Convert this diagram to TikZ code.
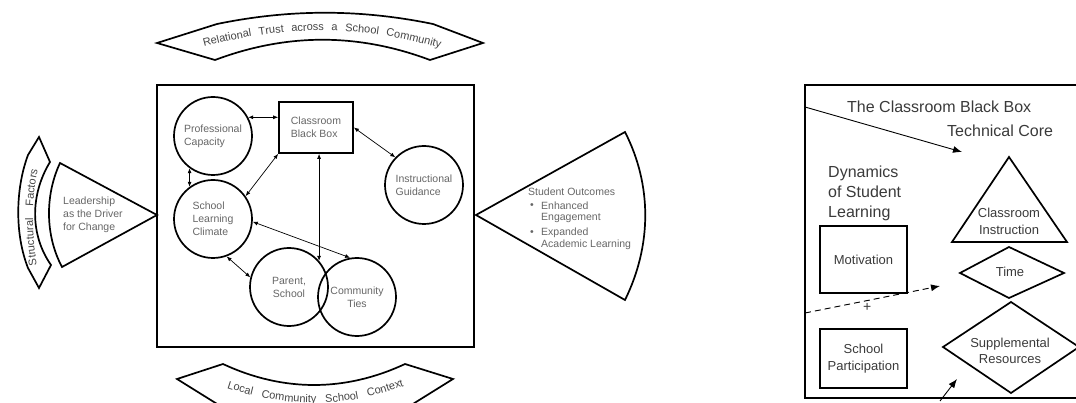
\documentclass[tikz,border=0pt]{standalone}
\usepackage{fontspec}
\setmainfont{Liberation Sans}
\usetikzlibrary{arrows.meta,decorations.text,calc}
\definecolor{txtgray}{HTML}{666666}
\definecolor{txtdark}{HTML}{3A3A3A}
\definecolor{bantxt}{HTML}{444444}
\begin{document}
\begin{tikzpicture}[x=1pt,y=-1pt,
  circ/.style={circle,draw,line width=1.7pt,minimum size=78pt,inner sep=0pt,align=left,text=txtgray,font=\fontsize{10.5}{13}\selectfont},
  lbl/.style={text=txtgray,font=\fontsize{10.5}{13}\selectfont,inner sep=0pt,align=left},
  dbl/.style={{Latex[length=5pt,width=4pt]}-{Latex[length=5pt,width=4pt]},line width=0.7pt},
  shp/.style={draw,line width=1.7pt,line join=miter},
  rtxt/.style={text=txtdark,font=\fontsize{16}{20}\selectfont,inner sep=0pt,align=left},
  stxt/.style={text=txtdark,font=\fontsize{13}{16.5}\selectfont,inner sep=0pt,align=center},
  ptr/.style={line width=0.9pt,-{Latex[length=9pt,width=7pt]}},
]
\useasboundingbox (0,0) rectangle (1076,403);
\clip (0,0) rectangle (1076,403);

% ---------- banners ----------
\draw[shp] (157,43) -- (217,24) .. controls (290,9) and (360,9) .. (433,24) -- (483,43)
  -- (430,60) .. controls (358,33) and (287,33) .. (215,60) -- cycle;
\path[decorate,decoration={text along path,
  text={|\fontsize{11}{12}\selectfont\color{bantxt}|Relational Trust across a School Community},
  text align={fit to path stretching spaces}}]
  (204,47) .. controls (285,25) and (360,25) .. (440,48);

\draw[shp] (177,379) -- (223,364) .. controls (283,392) and (345,392) .. (405,364) -- (453,379)
  -- (400,412) .. controls (345,440) and (285,440) .. (230,412) -- cycle;
\path[decorate,decoration={text along path,
  text={|\fontsize{11}{12}\selectfont\color{bantxt}|Local Community School Context},
  text align={fit to path stretching spaces}}]
  (227,388) .. controls (287,408) and (345,408) .. (404,386);

\draw[shp] (39,137) -- (50,162) .. controls (30,195) and (30,235) .. (51,265) -- (39,288)
  -- (28,268) .. controls (15,235) and (15,190) .. (28,155) -- cycle;
\path[decorate,decoration={text along path,
  text={|\fontsize{11}{12}\selectfont\color{bantxt}|Structural Factors},
  text align={fit to path stretching spaces}}]
  (37,265) .. controls (31.5,235) and (31.5,195) .. (38,170);

% ---------- leadership and outcomes ----------
\draw[shp] (60,163) -- (157,215) -- (62,267) .. controls (45,235) and (45,195) .. (60,163) -- cycle;
\node[lbl,anchor=west] (lead) at (63,214.5) {Leadership\\as the Driver\\for Change};

\draw[shp] (476,215) -- (625,132) .. controls (652,185) and (652,245) .. (625,300) -- cycle;
\node[lbl,anchor=west] (so) at (528,192) {Student Outcomes};
\node[lbl,anchor=west] (b1) at (530,206) {\textbullet};
\node[lbl,anchor=west] (so1) at (541,206) {Enhanced};
\node[lbl,anchor=west] (so2) at (541,218) {Engagement};
\node[lbl,anchor=west] (b2) at (530,233) {\textbullet};
\node[lbl,anchor=west] (so3) at (541,233) {Expanded};
\node[lbl,anchor=west] (so4) at (541,245) {Academic Learning};

% ---------- main box ----------
\draw[line width=1.7pt] (157,85) rectangle (474,347);

\node[circ] (pc) at (213,136) {Professional\\Capacity};
\node[circ] (slc) at (213,219) {School\\Learning\\Climate};
\node[circ] (ig) at (424,185) {Instructional\\Guidance};
\node[circ,align=center] (ps) at (289,287) {Parent,\\School};
\node[circ,align=center] (ct) at (357,297) {Community\\Ties};
\node[draw,line width=1.7pt,minimum width=74pt,minimum height=51pt,lbl] (cbb) at (316,127.5) {Classroom\\Black Box};

\draw[dbl] (pc.28) -- (pc.28 -| cbb.west);
\draw[dbl] (pc.234) -- (slc.126);
\draw[dbl] (cbb.south west) -- (slc.35);
\draw[dbl] (cbb.south -| ps.41) -- (ps.41);
\draw[dbl] (cbb.east) -- (ig.136);
\draw[dbl] (slc.-4) -- (ct.100);
\draw[dbl] (slc.290) -- (ps.166);

% ---------- right panel ----------
\draw[line width=1.8pt] (805,85) rectangle (1095,398);
\node[rtxt,anchor=west] (t1) at (847,107) {The Classroom Black Box};
\node[rtxt,anchor=west] (t2) at (947,131) {Technical Core};
\node[rtxt,anchor=west] (t3) at (828,193) {Dynamics\\of Student\\Learning};

\node[draw,line width=1.4pt,minimum width=87pt,minimum height=67pt,stxt] (mot) at (863.5,259.5) {Motivation};
\node[draw,line width=1.4pt,minimum width=87pt,minimum height=59pt,stxt] (spart) at (863.5,358.5) {School\\Participation};

\draw[shp] (1009,157) -- (1067,242) -- (952,242) -- cycle;
\node[stxt] (ci) at (1009,221.5) {Classroom\\Instruction};
\draw[shp] (960,273) -- (1009,247) -- (1064,273) -- (1009,298) -- cycle;
\node[stxt] (time) at (1010,272) {Time};
\draw[shp] (943,347) -- (1011,302) -- (1079,347) -- (1011,393) -- cycle;
\node[stxt] (sr) at (1010,351) {Supplemental\\Resources};

\coordinate (a1s) at (805,107);
\coordinate (a1e) at (962,152);
\draw[ptr] (a1s) -- (a1e);
\coordinate (a2s) at (805,313);
\coordinate (a2e) at (940,286);
\draw[ptr,dash pattern=on 6pt off 4pt] (a2s) -- node[pos=0.46,below=2pt,text=txtdark,font=\fontsize{14}{14}\selectfont,inner sep=0pt] (plus) {+} (a2e);
\coordinate (a3s) at (940,401);
\coordinate (a3e) at (957,379);
\draw[ptr] (a3s) -- (a3e);
\end{tikzpicture}
\end{document}
